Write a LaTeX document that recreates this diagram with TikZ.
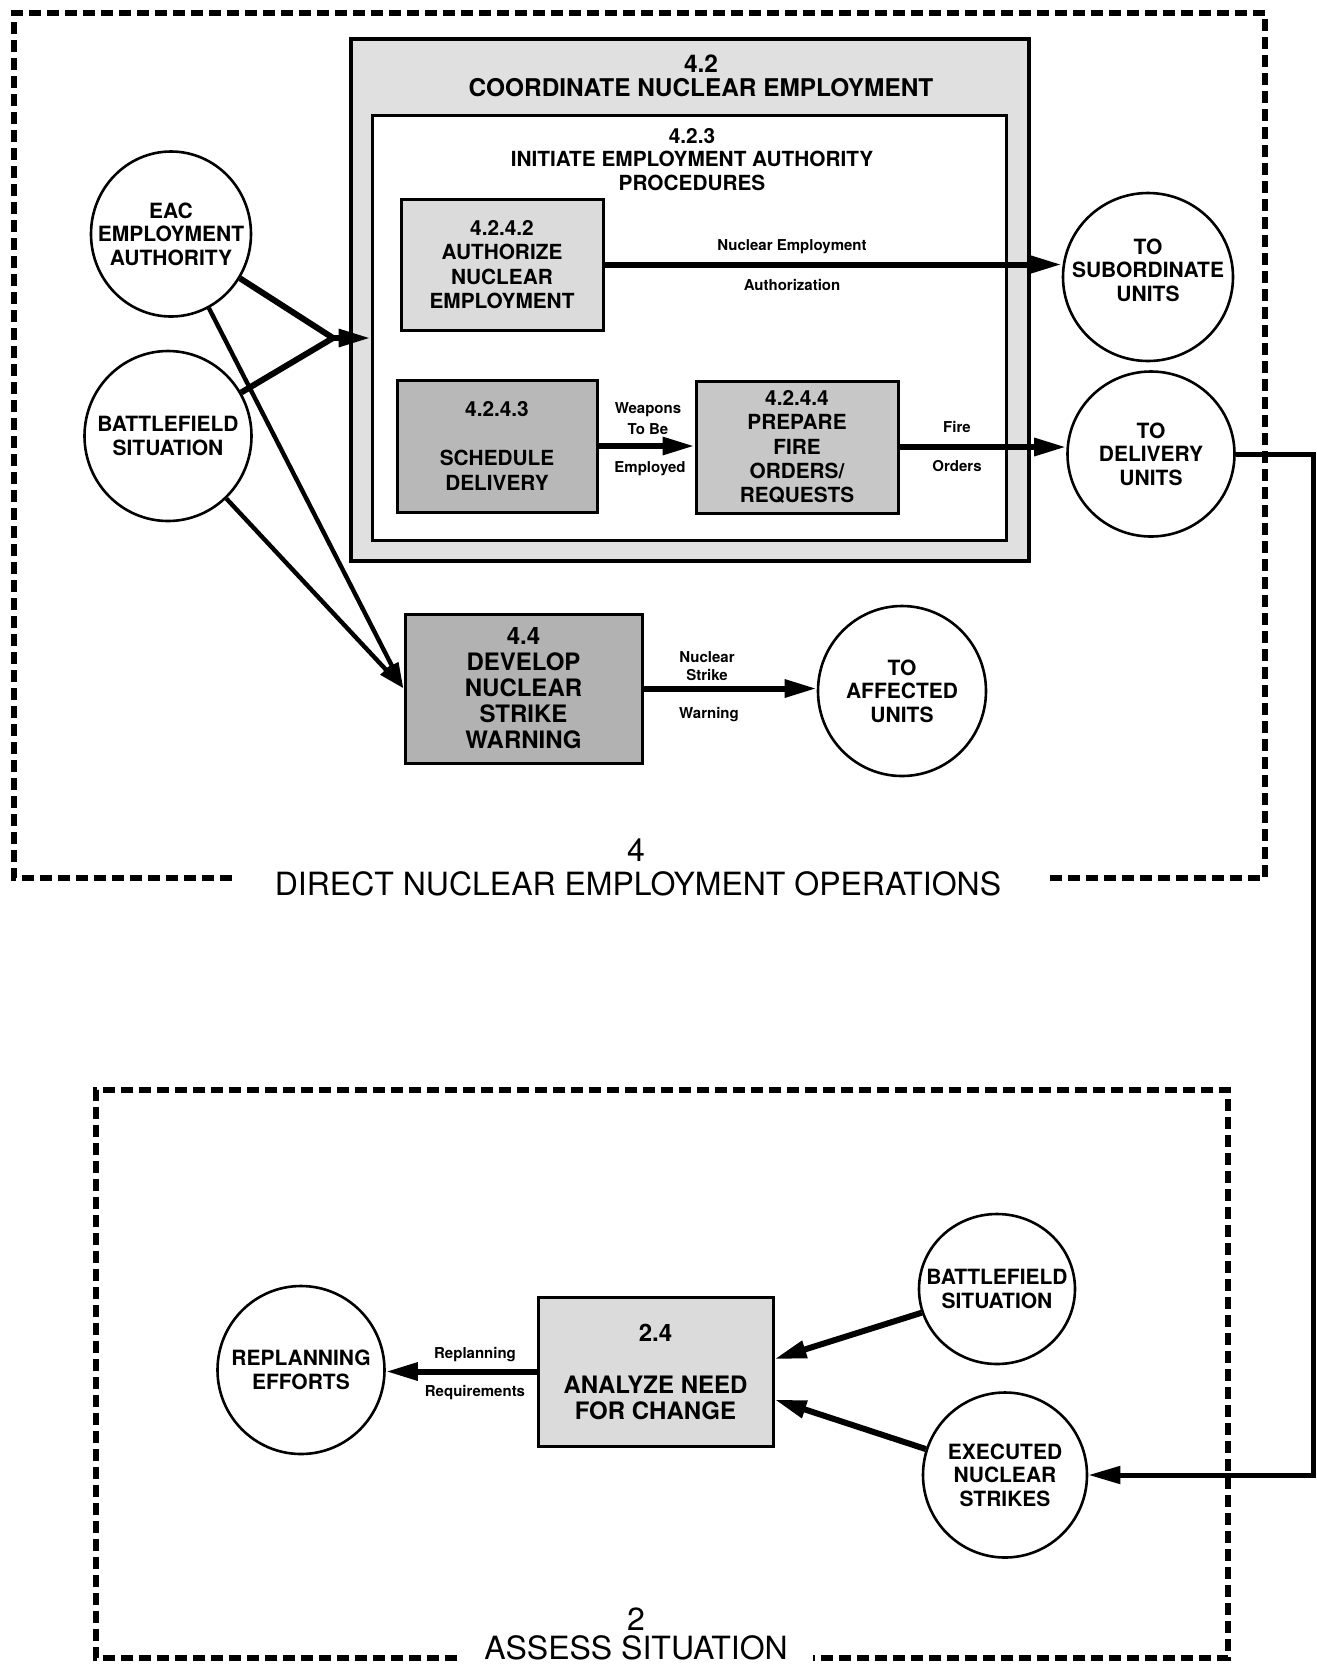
\documentclass[tikz,border=0pt]{standalone}
\usepackage{fontspec}
\setmainfont{TeX Gyre Heros}
\usetikzlibrary{arrows.meta,calc,shapes.geometric}
\begin{document}
\begin{tikzpicture}[x=0.5pt,y=-0.5pt,
  frame/.style={line width=2.6pt, dash pattern=on 6pt off 3pt},
  proc/.style={draw, line width=1.5pt, align=center, font=\fontsize{10.4}{12.2}\selectfont\bfseries, inner sep=0pt},
  bigproc/.style={proc, font=\fontsize{12}{13}\selectfont\bfseries},
  ext/.style={draw, ellipse, line width=1.3pt, inner sep=0pt},
  exttext/.style={align=center, font=\fontsize{10.5}{11.7}\selectfont\bfseries, inner sep=0pt},
  flow/.style={line width=3pt, -{Triangle[length=16pt,width=8.5pt]}},
  thinflow/.style={line width=2.2pt, -{Triangle[length=13pt,width=7pt]}},
  lbl/.style={font=\fontsize{7.5}{8}\selectfont\bfseries, inner sep=0pt},
  title/.style={font=\fontsize{16}{18}\selectfont, inner sep=0pt},
  boxtitle/.style={align=center, font=\fontsize{10.4}{11.7}\selectfont\bfseries, inner sep=0pt},
]
\useasboundingbox (0,0) rectangle (1317,1667);
\fill[white] (0,0) rectangle (1317,1667);

% frames
\draw[frame] (232,878) -- (14,878) -- (14,13) -- (1265,13) -- (1265,878) -- (1047,878);
\draw[frame] (457,1658) -- (96,1658) -- (96,1090) -- (1228,1090) -- (1228,1658) -- (813,1658);

\node[title] (t4n) at (636,850) {4};
\node[title] (t4) at (638,884) {DIRECT NUCLEAR EMPLOYMENT OPERATIONS};
\node[title] (t2n) at (636,1619) {2};
\node[title] (t2) at (636,1648) {ASSESS SITUATION};

% box 4.2
\node[draw, line width=1.8pt, fill=black!12, minimum width=339pt, minimum height=261pt, inner sep=0pt] (b42) at (690,300) {};
\node[boxtitle, font=\fontsize{12.2}{12}\selectfont\bfseries] (b42n) at (701,64) {4.2};
\node[boxtitle, font=\fontsize{12.2}{12}\selectfont\bfseries] (b42t) at (701,88) {COORDINATE NUCLEAR EMPLOYMENT};
\node[draw, line width=1.5pt, fill=white, minimum width=317pt, minimum height=212.5pt, inner sep=0pt] (in423) at (689,327.5) {};
\node[boxtitle] (in423t) at (692,159.5) {4.2.3\\INITIATE EMPLOYMENT AUTHORITY\\PROCEDURES};

\node[proc, fill=black!14, minimum width=101pt, minimum height=65.5pt] (b4242) at (502,264.5) {4.2.4.2\\AUTHORIZE\\NUCLEAR\\EMPLOYMENT};
\node[proc, fill=black!28, minimum width=100pt, minimum height=66pt] (b4243) at (497,446) {4.2.4.3\\ \\SCHEDULE\\DELIVERY};
\node[proc, fill=black!22, minimum width=101pt, minimum height=66pt] (b4244) at (797,447) {4.2.4.4\\PREPARE\\FIRE\\ORDERS/\\REQUESTS};
\node[bigproc, fill=black!30, minimum width=118.5pt, minimum height=74.5pt] (b44) at (523.5,688.5) {4.4\\DEVELOP\\NUCLEAR\\STRIKE\\WARNING};
\node[bigproc, fill=black!14, minimum width=117.5pt, minimum height=74.5pt] (b24) at (655.5,1371.5) {2.4\\ \\ANALYZE NEED\\FOR CHANGE};

% externals
\node[ext, minimum width=80pt, minimum height=82.5pt] (eac) at (171,234) {};
\node[exttext] (eact) at (eac) {EAC\\EMPLOYMENT\\AUTHORITY};
\node[ext, minimum width=83.5pt, minimum height=85pt] (bat1) at (168,436) {};
\node[exttext] (bat1t) at (bat1) {BATTLEFIELD\\SITUATION};
\node[ext, minimum width=85pt, minimum height=84pt] (sub) at (1148,277) {};
\node[exttext] (subt) at (1148,270) {TO\\SUBORDINATE\\UNITS};
\node[ext, minimum width=83.5pt, minimum height=82.5pt] (del) at (1151,454) {};
\node[exttext] (delt) at (del) {TO\\DELIVERY\\UNITS};
\node[ext, minimum width=84pt, minimum height=85pt] (aff) at (902,691) {};
\node[exttext] (afft) at (aff) {TO\\AFFECTED\\UNITS};
\node[ext, minimum width=83.5pt, minimum height=84pt] (rep) at (301,1370) {};
\node[exttext] (rept) at (rep) {REPLANNING\\EFFORTS};
\node[ext, minimum width=78pt, minimum height=75pt] (bat2) at (997,1289) {};
\node[exttext] (bat2t) at (bat2) {BATTLEFIELD\\SITUATION};
\node[ext, minimum width=82pt, minimum height=82.5pt] (exe) at (1005,1475) {};
\node[exttext] (exet) at (exe) {EXECUTED\\NUCLEAR\\STRIKES};

% connectors
\coordinate (mrg) at (333,338);
\draw[line width=3pt] (eac) -- (mrg);
\draw[line width=3pt] (bat1) -- (mrg);
\draw[flow] (mrg) -- (mrg -| in423.west);

\draw[thinflow] (eac) -- (b44.west);
\draw[thinflow] (bat1) -- (b44.west);

\draw[flow] (b4242.east) -- (b4242.east -| sub.west);
\node[lbl] (l1a) at (792,247) {Nuclear Employment};
\node[lbl] (l1b) at (792,285) {Authorization};

\draw[flow] (b4243.east) -- (b4243.east -| b4244.west);
\node[lbl] (l2a) at (648,410) {Weapons};
\node[lbl] (l2b) at (648,429) {To Be};
\node[lbl] (l2c) at (650,469) {Employed};

\draw[flow] (b4244.east) -- (b4244.east -| del.west);
\node[lbl] (l3a) at (957,427) {Fire};
\node[lbl] (l3b) at (957,466) {Orders};

\draw[flow] (b44.east) -- (b44.east -| aff.west);
\node[lbl] (l4a) at (707,657) {Nuclear};
\node[lbl] (l4b) at (707,675) {Strike};
\node[lbl] (l4c) at (709,715) {Warning};

\coordinate (rt) at (1313,0);
\draw[flow, line width=2.5pt] (del.east) -- (del.east -| rt) -- (rt |- exe.east) -- (exe.east);

\draw[flow] (bat2) -- ([yshift=6.25pt]b24.east);
\draw[flow] (exe) -- ([yshift=-14pt]b24.east);

\draw[flow] (b24.west) -- (b24.west -| rep.east);
\node[lbl] (l5a) at (475,1355) {Replanning};
\node[lbl] (l5b) at (475,1393) {Requirements};
\end{tikzpicture}
\end{document}
